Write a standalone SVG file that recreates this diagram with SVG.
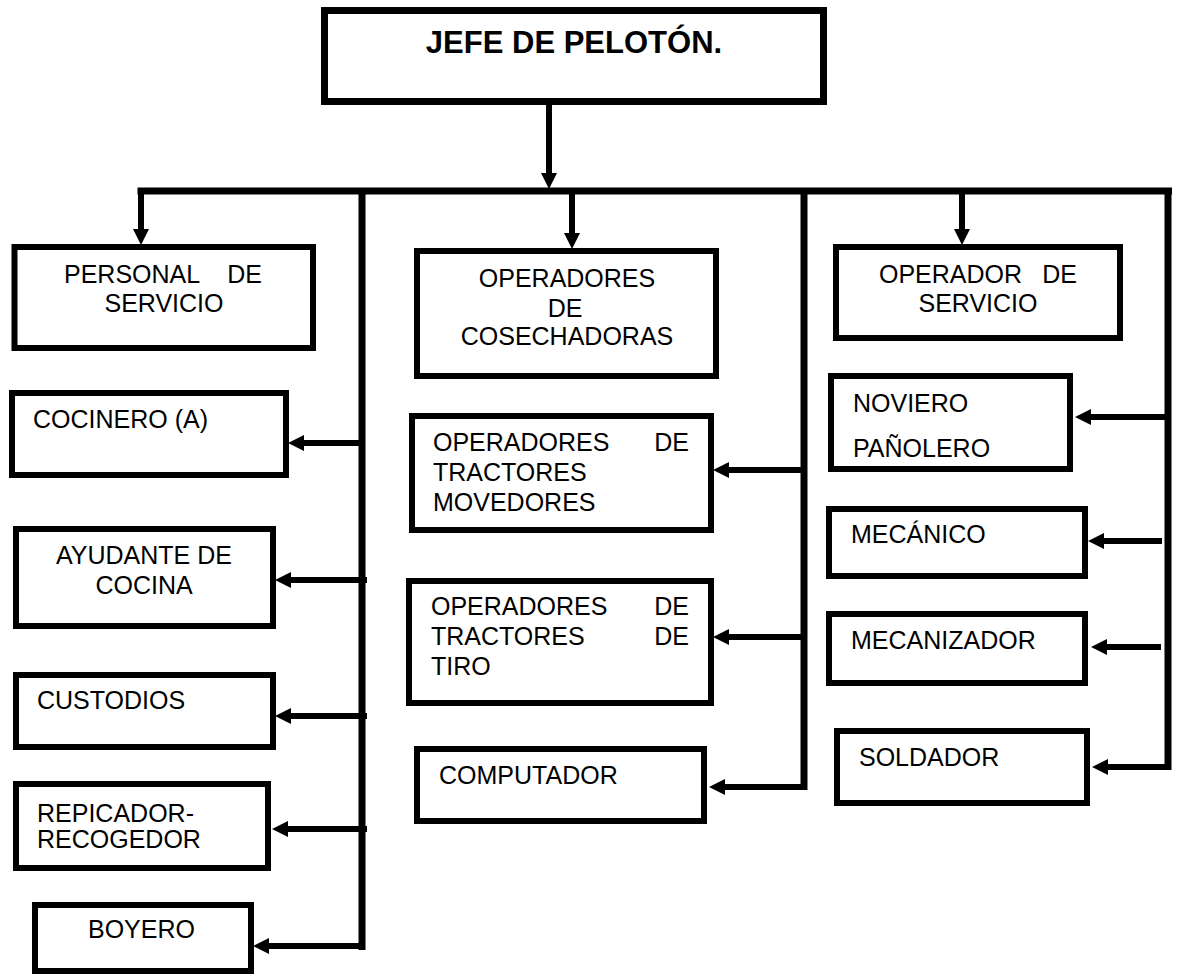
<svg xmlns="http://www.w3.org/2000/svg" width="1177" height="975" viewBox="0 0 1177 975">
<style>
.box{fill:#fff;stroke:#000;stroke-width:6}
.t{font-family:"Liberation Sans",Arial,sans-serif;font-size:25px;fill:#000}
.c{text-anchor:middle}
.e{text-anchor:end}
.title{font-family:"Liberation Sans",Arial,sans-serif;font-size:31px;font-weight:bold;text-anchor:middle;fill:#000}
.ln{fill:none;stroke:#000;stroke-width:7}
.ar{fill:none;stroke:#000;stroke-width:6;marker-end:url(#ah)}
</style>
<defs>
<marker id="ah" markerUnits="userSpaceOnUse" markerWidth="16" markerHeight="16" refX="5" refY="8" orient="auto">
<path d="M0,0 L16,8 L0,16 z" fill="#000"/>
</marker>
</defs>
<rect width="1177" height="975" fill="#fff"/>
<g id="connectors">
<line class="ln" x1="137.5" y1="191" x2="1172" y2="191"/>
<path class="ar" d="M549,105 V178"/>
<path class="ar" d="M141,191 V234"/>
<path class="ar" d="M572,194 V238"/>
<path class="ar" d="M962,194 V234"/>
<line class="ln" x1="362" y1="191" x2="362" y2="950"/>
<line class="ln" x1="804" y1="191" x2="804" y2="790"/>
<line class="ln" x1="1168" y1="191" x2="1168" y2="770"/>
<path class="ar" d="M362,443 H299"/>
<path class="ar" d="M367,580 H286"/>
<path class="ar" d="M367,716 H286"/>
<path class="ar" d="M367,829 H283"/>
<path class="ar" d="M362,946 H264"/>
<path class="ar" d="M804,470 H724"/>
<path class="ar" d="M804,637 H724"/>
<path class="ar" d="M806,787 H720"/>
<path class="ar" d="M1168,417 H1086"/>
<path class="ar" d="M1162,541 H1099"/>
<path class="ar" d="M1161,647 H1102"/>
<path class="ar" d="M1168,767 H1103"/>
</g>
<g id="jefe">
<rect class="box" x="324.5" y="10.5" width="499" height="91" style="stroke-width:7"/>
<text class="title" x="574" y="53">JEFE DE PELOTÓN.</text>
</g>
<g id="personal">
<rect class="box" x="14.5" y="247" width="298.5" height="101"/>
<text class="t" x="64" y="283">PERSONAL</text>
<text class="t e" x="262" y="283">DE</text>
<text class="t c" x="164" y="312">SERVICIO</text>
</g>
<g id="cosechadoras">
<rect class="box" x="417" y="251" width="299" height="125"/>
<text class="t c" x="567" y="287">OPERADORES</text>
<text class="t c" x="565" y="317">DE</text>
<text class="t c" x="567" y="345">COSECHADORAS</text>
</g>
<g id="operador-servicio">
<rect class="box" x="836" y="247" width="284" height="91"/>
<text class="t" x="879" y="283">OPERADOR</text>
<text class="t e" x="1077" y="283">DE</text>
<text class="t c" x="978" y="312">SERVICIO</text>
</g>
<g id="cocinero">
<rect class="box" x="12" y="393" width="274" height="82"/>
<text class="t" x="33" y="428">COCINERO (A)</text>
</g>
<g id="ayudante">
<rect class="box" x="16" y="529" width="257" height="97"/>
<text class="t c" x="144" y="564">AYUDANTE DE</text>
<text class="t c" x="144" y="594">COCINA</text>
</g>
<g id="custodios">
<rect class="box" x="16" y="675" width="257" height="72"/>
<text class="t" x="37" y="709">CUSTODIOS</text>
</g>
<g id="repicador">
<rect class="box" x="16" y="784" width="252" height="84"/>
<text class="t" x="37" y="822">REPICADOR-</text>
<text class="t" x="37" y="848">RECOGEDOR</text>
</g>
<g id="boyero">
<rect class="box" x="35" y="905" width="216" height="66"/>
<text class="t" x="88" y="938">BOYERO</text>
</g>
<g id="movedores">
<rect class="box" x="412" y="416" width="299" height="114"/>
<text class="t" x="433" y="451">OPERADORES</text>
<text class="t e" x="689" y="451">DE</text>
<text class="t" x="433" y="481">TRACTORES</text>
<text class="t" x="433" y="511">MOVEDORES</text>
</g>
<g id="tiro">
<rect class="box" x="409" y="581" width="302" height="122"/>
<text class="t" x="431" y="615">OPERADORES</text>
<text class="t e" x="689" y="615">DE</text>
<text class="t" x="431" y="645">TRACTORES</text>
<text class="t e" x="689" y="645">DE</text>
<text class="t" x="431" y="675">TIRO</text>
</g>
<g id="computador">
<rect class="box" x="417" y="749" width="287" height="72"/>
<text class="t" x="439" y="784">COMPUTADOR</text>
</g>
<g id="noviero">
<rect class="box" x="831" y="376" width="239" height="93"/>
<text class="t" x="853" y="412">NOVIERO</text>
<text class="t" x="853" y="457">PAÑOLERO</text>
</g>
<g id="mecanico">
<rect class="box" x="829" y="509" width="256" height="67"/>
<text class="t" x="851" y="543">MECÁNICO</text>
</g>
<g id="mecanizador">
<rect class="box" x="829" y="614" width="256" height="69"/>
<text class="t" x="851" y="649">MECANIZADOR</text>
</g>
<g id="soldador">
<rect class="box" x="837" y="731" width="250" height="72"/>
<text class="t" x="859" y="766">SOLDADOR</text>
</g>
</svg>
